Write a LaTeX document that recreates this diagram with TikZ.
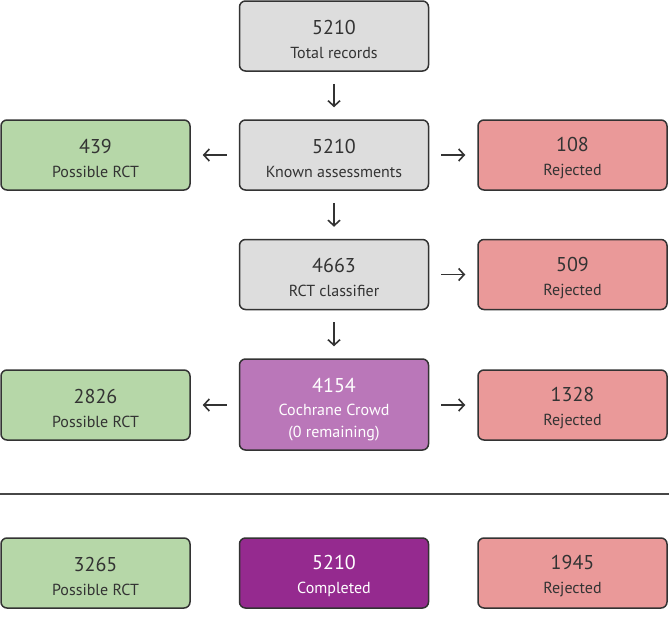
\documentclass[tikz,border=0pt]{standalone}
\usepackage{fontspec}
\setmainfont{PT Sans}
\usetikzlibrary{arrows.meta}
\definecolor{boxgray}{HTML}{DDDDDD}
\definecolor{boxgreen}{HTML}{B6D7A8}
\definecolor{boxred}{HTML}{EA9999}
\definecolor{boxpurple}{HTML}{BA77B9}
\definecolor{boxdark}{HTML}{952A8F}
\definecolor{edge}{HTML}{333333}
\tikzset{
  box/.style={draw=edge, line width=1.5pt, rounded corners=6pt, minimum width=189pt, minimum height=70pt, align=center, text=edge, inner sep=0pt, font=\fontsize{16}{24}\selectfont},
  gbox/.style={box, fill=boxgray},
  grbox/.style={box, fill=boxgreen},
  rbox/.style={box, fill=boxred},
  pbox/.style={box, fill=boxpurple, text=white, font=\fontsize{16}{22.5}\selectfont},
  dbox/.style={box, fill=boxdark, text=white},
  flow/.style={draw=edge, line width=1.6pt, -{Straight Barb[length=5.5pt,width=12pt,line width=1.6pt]}},
}
\newcommand{\bx}[2]{{\fontsize{20}{24}\selectfont\rule{0pt}{21pt}#1}\\#2}
\begin{document}
\begin{tikzpicture}[x=1pt,y=-1pt]
\useasboundingbox (0,0) rectangle (669,624);
\node[gbox] (total) at (334,36) {\bx{5210}{Total records}};
\node[gbox] (known) at (334,155) {\bx{5210}{Known assessments}};
\node[grbox] (pos1) at (95.5,155) {\bx{439}{Possible RCT}};
\node[rbox] (rej1) at (572.5,155) {\bx{108}{Rejected}};
\node[gbox] (rct) at (334,274.5) {\bx{4663}{RCT classifier}};
\node[rbox] (rej2) at (572.5,274.5) {\bx{509}{Rejected}};
\node[pbox, minimum height=91pt] (crowd) at (334,404.5) {{\fontsize{20}{22.5}\selectfont\rule{0pt}{25pt}4154}\\Cochrane Crowd\\(0 remaining)};
\node[grbox] (pos2) at (95.5,405) {\bx{2826}{Possible RCT}};
\node[rbox] (rej3) at (572.5,405) {\bx{1328}{Rejected}};
\coordinate (la) at (0,494);
\coordinate (lb) at (669,494);
\draw[edge!90, line width=1.5pt] (la) -- (lb);
\node[grbox] (pos3) at (95.5,573) {\bx{3265}{Possible RCT}};
\node[dbox] (done) at (334,573) {\bx{5210}{Completed}};
\node[rbox] (rej4) at (572.5,573) {\bx{1945}{Rejected}};
\draw[flow] ([yshift=-12pt]total.south) -- ([yshift=12pt]known.north);
\draw[flow] ([yshift=-12pt]known.south) -- ([yshift=12pt]rct.north);
\draw[flow] ([yshift=-12pt]rct.south) -- ([yshift=12pt]crowd.north);
\draw[flow] ([xshift=-12pt]known.west) -- ([xshift=12pt]pos1.east);
\draw[flow] ([xshift=12pt]known.east) -- ([xshift=-12pt]rej1.west);
\draw[flow] ([xshift=12pt]rct.east) -- ([xshift=-12pt]rej2.west);
\draw[flow] ([xshift=-12pt]crowd.west|-pos2.east) -- ([xshift=12pt]pos2.east);
\draw[flow] ([xshift=12pt]crowd.east|-rej3.west) -- ([xshift=-12pt]rej3.west);
\end{tikzpicture}
\end{document}
